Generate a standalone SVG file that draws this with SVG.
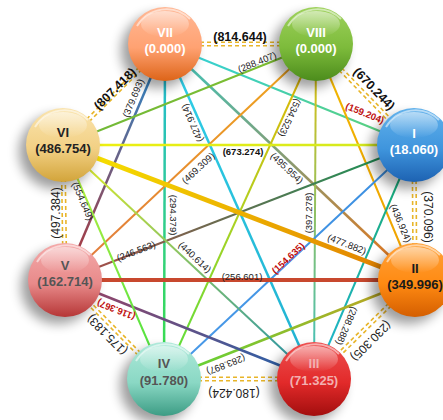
<svg xmlns="http://www.w3.org/2000/svg" width="443" height="420" viewBox="0 0 443 420">
<style>
.lbl{font-family:"Liberation Sans",Arial,sans-serif;font-size:9.5px;fill:#222;text-anchor:middle;dominant-baseline:central}
.ob{font-size:12.5px;font-weight:bold;fill:#111}
.or{font-size:12px}
.cb{font-weight:bold;fill:#111}
.red{fill:#C01010;font-weight:bold}
.nt{font-family:"Liberation Sans",Arial,sans-serif;font-size:13px;font-weight:bold;text-anchor:middle}
.dash line{stroke:#E8B52A;stroke-width:1.6;stroke-dasharray:4 3}
.edge line{fill:none;stroke-linecap:butt}
.shadow{fill:#000;opacity:0.38}
.rim{fill:none;stroke:#fff;stroke-width:2;opacity:0.55}
</style>
<defs>
<filter id="blur" x="-50%" y="-50%" width="200%" height="200%"><feGaussianBlur stdDeviation="6"/></filter>
<linearGradient id="gloss" x1="0" y1="0" x2="0" y2="1"><stop offset="0" stop-color="#fff" stop-opacity="0.55"/><stop offset="1" stop-color="#fff" stop-opacity="0"/></linearGradient>
<linearGradient id="n7" x1="0" y1="0" x2="0" y2="1"><stop offset="0" stop-color="#FFB896"/><stop offset="0.55" stop-color="#FFA272"/><stop offset="1" stop-color="#DD6418"/></linearGradient>
<linearGradient id="n8" x1="0" y1="0" x2="0" y2="1"><stop offset="0" stop-color="#9ED25C"/><stop offset="0.55" stop-color="#7DBB3B"/><stop offset="1" stop-color="#4C8C1C"/></linearGradient>
<linearGradient id="n1" x1="0" y1="0" x2="0" y2="1"><stop offset="0" stop-color="#62B2EC"/><stop offset="0.55" stop-color="#3F95DD"/><stop offset="1" stop-color="#1D62B2"/></linearGradient>
<linearGradient id="n2" x1="0" y1="0" x2="0" y2="1"><stop offset="0" stop-color="#FFA23A"/><stop offset="0.55" stop-color="#FF8A12"/><stop offset="1" stop-color="#D45E00"/></linearGradient>
<linearGradient id="n3" x1="0" y1="0" x2="0" y2="1"><stop offset="0" stop-color="#EE5050"/><stop offset="0.55" stop-color="#E22A2A"/><stop offset="1" stop-color="#A20E0E"/></linearGradient>
<linearGradient id="n4" x1="0" y1="0" x2="0" y2="1"><stop offset="0" stop-color="#AEE9DA"/><stop offset="0.55" stop-color="#8AD8C4"/><stop offset="1" stop-color="#3C9C84"/></linearGradient>
<linearGradient id="n5" x1="0" y1="0" x2="0" y2="1"><stop offset="0" stop-color="#F4AAAA"/><stop offset="0.55" stop-color="#E88A8A"/><stop offset="1" stop-color="#B63636"/></linearGradient>
<linearGradient id="n6" x1="0" y1="0" x2="0" y2="1"><stop offset="0" stop-color="#FAE4AE"/><stop offset="0.55" stop-color="#F2D084"/><stop offset="1" stop-color="#D2A43A"/></linearGradient>
<linearGradient id="g1" gradientUnits="userSpaceOnUse" x1="165" y1="44" x2="65" y2="280"><stop offset="0" stop-color="#1E90D8"/><stop offset="1" stop-color="#B83030"/></linearGradient>
<linearGradient id="g2" gradientUnits="userSpaceOnUse" x1="165" y1="44" x2="164" y2="379"><stop offset="0" stop-color="#22B8E0"/><stop offset="1" stop-color="#3CE040"/></linearGradient>
<linearGradient id="g3" gradientUnits="userSpaceOnUse" x1="165" y1="44" x2="314" y2="379"><stop offset="0" stop-color="#30D0E8"/><stop offset="1" stop-color="#20B0D0"/></linearGradient>
<linearGradient id="g4" gradientUnits="userSpaceOnUse" x1="165" y1="44" x2="415" y2="280"><stop offset="0" stop-color="#38C8C0"/><stop offset="0.5" stop-color="#8A9A70"/><stop offset="1" stop-color="#F07010"/></linearGradient>
<linearGradient id="g5" gradientUnits="userSpaceOnUse" x1="165" y1="44" x2="414" y2="145"><stop offset="0" stop-color="#30D0E0"/><stop offset="1" stop-color="#60D070"/></linearGradient>
<linearGradient id="g6" gradientUnits="userSpaceOnUse" x1="316" y1="44" x2="63" y2="145"><stop offset="0" stop-color="#80C030"/><stop offset="1" stop-color="#70B838"/></linearGradient>
<linearGradient id="g7" gradientUnits="userSpaceOnUse" x1="316" y1="44" x2="65" y2="280"><stop offset="0" stop-color="#F0A818"/><stop offset="1" stop-color="#E07840"/></linearGradient>
<linearGradient id="g8" gradientUnits="userSpaceOnUse" x1="316" y1="44" x2="164" y2="379"><stop offset="0" stop-color="#E8B000"/><stop offset="0.5" stop-color="#B0D020"/><stop offset="1" stop-color="#50E040"/></linearGradient>
<linearGradient id="g9" gradientUnits="userSpaceOnUse" x1="316" y1="44" x2="314" y2="379"><stop offset="0" stop-color="#E8C000"/><stop offset="1" stop-color="#38C0C8"/></linearGradient>
<linearGradient id="g10" gradientUnits="userSpaceOnUse" x1="316" y1="44" x2="415" y2="280"><stop offset="0" stop-color="#F0B800"/><stop offset="1" stop-color="#F0A000"/></linearGradient>
<linearGradient id="g11" gradientUnits="userSpaceOnUse" x1="414" y1="145" x2="63" y2="145"><stop offset="0" stop-color="#D0E820"/><stop offset="1" stop-color="#F0F010"/></linearGradient>
<linearGradient id="g12" gradientUnits="userSpaceOnUse" x1="414" y1="145" x2="65" y2="280"><stop offset="0" stop-color="#109858"/><stop offset="1" stop-color="#B04848"/></linearGradient>
<linearGradient id="g13" gradientUnits="userSpaceOnUse" x1="414" y1="145" x2="164" y2="379"><stop offset="0" stop-color="#3A8EE0"/><stop offset="1" stop-color="#4A9AE8"/></linearGradient>
<linearGradient id="g14" gradientUnits="userSpaceOnUse" x1="414" y1="145" x2="314" y2="379"><stop offset="0" stop-color="#18A868"/><stop offset="1" stop-color="#20B8D8"/></linearGradient>
<linearGradient id="g15" gradientUnits="userSpaceOnUse" x1="63" y1="145" x2="415" y2="280"><stop offset="0" stop-color="#F8E800"/><stop offset="1" stop-color="#E07800"/></linearGradient>
<linearGradient id="g17" gradientUnits="userSpaceOnUse" x1="415" y1="280" x2="164" y2="379"><stop offset="0" stop-color="#C8A020"/><stop offset="1" stop-color="#58D838"/></linearGradient>
<linearGradient id="g18" gradientUnits="userSpaceOnUse" x1="63" y1="145" x2="314" y2="379"><stop offset="0" stop-color="#E8F020"/><stop offset="1" stop-color="#2090B0"/></linearGradient>
<linearGradient id="g19" gradientUnits="userSpaceOnUse" x1="65" y1="280" x2="314" y2="379"><stop offset="0" stop-color="#A04060"/><stop offset="1" stop-color="#1E64B0"/></linearGradient>
<linearGradient id="g20" gradientUnits="userSpaceOnUse" x1="63" y1="145" x2="164" y2="379"><stop offset="0" stop-color="#C8F040"/><stop offset="1" stop-color="#40E040"/></linearGradient>
</defs>
<rect width="443" height="420" fill="#fff"/>

<g id="connectors">
<g class="edge">
<line x1="165" y1="44" x2="65" y2="280" stroke="url(#g1)" stroke-width="2.5"/>
<line x1="165" y1="44" x2="164" y2="379" stroke="url(#g2)" stroke-width="2.5"/>
<line x1="165" y1="44" x2="314" y2="379" stroke="url(#g3)" stroke-width="2.5"/>
<line x1="165" y1="44" x2="415" y2="280" stroke="url(#g4)" stroke-width="2.5"/>
<line x1="165" y1="44" x2="414" y2="145" stroke="url(#g5)" stroke-width="2"/>
<line x1="316" y1="44" x2="63" y2="145" stroke="url(#g6)" stroke-width="2"/>
<line x1="316" y1="44" x2="65" y2="280" stroke="url(#g7)" stroke-width="2"/>
<line x1="316" y1="44" x2="164" y2="379" stroke="url(#g8)" stroke-width="2"/>
<line x1="316" y1="44" x2="314" y2="379" stroke="url(#g9)" stroke-width="2"/>
<line x1="316" y1="44" x2="415" y2="280" stroke="url(#g10)" stroke-width="2"/>
<line x1="414" y1="145" x2="63" y2="145" stroke="url(#g11)" stroke-width="2.5"/>
<line x1="414" y1="145" x2="65" y2="280" stroke="url(#g12)" stroke-width="2"/>
<line x1="414" y1="145" x2="164" y2="379" stroke="url(#g13)" stroke-width="2"/>
<line x1="414" y1="145" x2="314" y2="379" stroke="url(#g14)" stroke-width="2"/>
<line x1="415" y1="280" x2="164" y2="379" stroke="url(#g17)" stroke-width="2.5"/>
<line x1="63" y1="145" x2="314" y2="379" stroke="url(#g18)" stroke-width="2"/>
<line x1="65" y1="280" x2="314" y2="379" stroke="url(#g19)" stroke-width="2.5"/>
<line x1="63" y1="145" x2="164" y2="379" stroke="url(#g20)" stroke-width="2"/>
<line x1="65" y1="280" x2="415" y2="280" stroke="#C8482E" stroke-width="4"/>
<line x1="63" y1="145" x2="415" y2="280" stroke="url(#g15)" stroke-width="5"/>
</g>
<g class="dash">
<g transform="translate(165,44)"><line x1="0" y1="-1.8" x2="151" y2="-1.8"/><line x1="0" y1="1.8" x2="151" y2="1.8"/></g>
<g transform="translate(316,44) rotate(45.86)"><line x1="0" y1="-1.8" x2="141" y2="-1.8"/><line x1="0" y1="1.8" x2="141" y2="1.8"/></g>
<g transform="translate(414,145) rotate(89.58)"><line x1="0" y1="-1.8" x2="135" y2="-1.8"/><line x1="0" y1="1.8" x2="135" y2="1.8"/></g>
<g transform="translate(415,280) rotate(135.58)"><line x1="0" y1="-1.8" x2="141" y2="-1.8"/><line x1="0" y1="1.8" x2="141" y2="1.8"/></g>
<g transform="translate(314,379) rotate(180)"><line x1="0" y1="-1.8" x2="150" y2="-1.8"/><line x1="0" y1="1.8" x2="150" y2="1.8"/></g>
<g transform="translate(164,379) rotate(225.3)"><line x1="0" y1="-1.8" x2="140" y2="-1.8"/><line x1="0" y1="1.8" x2="140" y2="1.8"/></g>
<g transform="translate(65,280) rotate(-90.85)"><line x1="0" y1="-1.8" x2="135" y2="-1.8"/><line x1="0" y1="1.8" x2="135" y2="1.8"/></g>
<g transform="translate(63,145) rotate(-44.7)"><line x1="0" y1="-1.8" x2="144" y2="-1.8"/><line x1="0" y1="1.8" x2="144" y2="1.8"/></g>
</g>
<g id="edge-labels">
<text class="lbl ob" transform="translate(240,37)">(814.644)</text>
<text class="lbl ob" transform="translate(374,89) rotate(46)">(670.244)</text>
<text class="lbl red" transform="translate(365,113) rotate(22)">(159.204)</text>
<text class="lbl or" transform="translate(428,217) rotate(90)">(370.096)</text>
<text class="lbl or" transform="translate(371,341) rotate(135)">(230.305)</text>
<text class="lbl or" transform="translate(234,393) rotate(180)">(180.424)</text>
<text class="lbl or" transform="translate(107,335) rotate(-135)">(175.183)</text>
<text class="lbl or" transform="translate(56,213) rotate(-90)">(497.384)</text>
<text class="lbl ob" transform="translate(115,89) rotate(-45)">(807.418)</text>
<text class="lbl" transform="translate(257,62) rotate(-22)">(288.407)</text>
<text class="lbl" transform="translate(133,98) rotate(-67)">(379.693)</text>
<text class="lbl" transform="translate(192,123) rotate(-114)">(427.914)</text>
<text class="lbl" transform="translate(173,215) rotate(90)">(294.379)</text>
<text class="lbl" transform="translate(198,168) rotate(-43)">(469.309)</text>
<text class="lbl cb" transform="translate(243,151)">(673.274)</text>
<text class="lbl" transform="translate(290,118) rotate(115)">(534.523)</text>
<text class="lbl" transform="translate(287,168) rotate(43)">(495.954)</text>
<text class="lbl" transform="translate(308,213) rotate(-90)">(397.278)</text>
<text class="lbl" transform="translate(401,223) rotate(67)">(436.924)</text>
<text class="lbl" transform="translate(347,244) rotate(21)">(477.882)</text>
<text class="lbl red" transform="translate(288,258) rotate(-43)">(154.635)</text>
<text class="lbl" transform="translate(136,251) rotate(-21)">(246.563)</text>
<text class="lbl" transform="translate(195,257) rotate(43)">(440.614)</text>
<text class="lbl" transform="translate(242,276)">(256.601)</text>
<text class="lbl" transform="translate(347,326) rotate(113)">(288.288)</text>
<text class="lbl" transform="translate(226,365) rotate(158.5)">(283.897)</text>
<text class="lbl red" transform="translate(116,310) rotate(201.7)">(116.367)</text>
<text class="lbl" transform="translate(83,201) rotate(67)">(554.649)</text>
</g>
</g>

<g id="node-VII">
<circle class="shadow" cx="158" cy="51" r="37" filter="url(#blur)"/>
<circle cx="165" cy="44" r="37" fill="url(#n7)"/>
<path class="rim" d="M137,26 A34,34 0 0 1 190,19"/>
<ellipse cx="165" cy="24" rx="24" ry="13" fill="url(#gloss)"/>
<text class="nt" x="165" y="37" fill="#fff">VII</text>
<text class="nt" x="165" y="53" fill="#fff">(0.000)</text>
</g>
<g id="node-VIII">
<circle class="shadow" cx="309" cy="51" r="37" filter="url(#blur)"/>
<circle cx="316" cy="44" r="37" fill="url(#n8)"/>
<path class="rim" d="M288,26 A34,34 0 0 1 341,19"/>
<ellipse cx="316" cy="24" rx="24" ry="13" fill="url(#gloss)"/>
<text class="nt" x="316" y="37" fill="#fff">VIII</text>
<text class="nt" x="316" y="53" fill="#fff">(0.000)</text>
</g>
<g id="node-I">
<circle class="shadow" cx="407" cy="152" r="37" filter="url(#blur)"/>
<circle cx="414" cy="145" r="37" fill="url(#n1)"/>
<path class="rim" d="M386,127 A34,34 0 0 1 439,120"/>
<ellipse cx="414" cy="125" rx="24" ry="13" fill="url(#gloss)"/>
<text class="nt" x="414" y="138" fill="#fff">I</text>
<text class="nt" x="414" y="154" fill="#fff">(18.060)</text>
</g>
<g id="node-II">
<circle class="shadow" cx="408" cy="287" r="37" filter="url(#blur)"/>
<circle cx="415" cy="280" r="37" fill="url(#n2)"/>
<path class="rim" d="M387,262 A34,34 0 0 1 440,255"/>
<ellipse cx="415" cy="260" rx="24" ry="13" fill="url(#gloss)"/>
<text class="nt" x="415" y="273" fill="#1a1a1a">II</text>
<text class="nt" x="415" y="289" fill="#1a1a1a">(349.996)</text>
</g>
<g id="node-III">
<circle class="shadow" cx="307" cy="386" r="37" filter="url(#blur)"/>
<circle cx="314" cy="379" r="37" fill="url(#n3)"/>
<path class="rim" d="M286,361 A34,34 0 0 1 339,354"/>
<ellipse cx="314" cy="359" rx="24" ry="13" fill="url(#gloss)"/>
<text class="nt" x="314" y="368" fill="#F2B0B0">III</text>
<text class="nt" x="314" y="385" fill="#F2B0B0">(71.325)</text>
</g>
<g id="node-IV">
<circle class="shadow" cx="157" cy="386" r="37" filter="url(#blur)"/>
<circle cx="164" cy="379" r="37" fill="url(#n4)"/>
<path class="rim" d="M136,361 A34,34 0 0 1 189,354"/>
<ellipse cx="164" cy="359" rx="24" ry="13" fill="url(#gloss)"/>
<text class="nt" x="164" y="368" fill="#555">IV</text>
<text class="nt" x="164" y="385" fill="#555">(91.780)</text>
</g>
<g id="node-V">
<circle class="shadow" cx="58" cy="287" r="37" filter="url(#blur)"/>
<circle cx="65" cy="280" r="37" fill="url(#n5)"/>
<path class="rim" d="M37,262 A34,34 0 0 1 90,255"/>
<ellipse cx="65" cy="260" rx="24" ry="13" fill="url(#gloss)"/>
<text class="nt" x="65" y="270" fill="#555">V</text>
<text class="nt" x="65" y="286" fill="#555">(162.714)</text>
</g>
<g id="node-VI">
<circle class="shadow" cx="56" cy="152" r="37" filter="url(#blur)"/>
<circle cx="63" cy="145" r="37" fill="url(#n6)"/>
<path class="rim" d="M35,127 A34,34 0 0 1 88,120"/>
<ellipse cx="63" cy="125" rx="24" ry="13" fill="url(#gloss)"/>
<text class="nt" x="63" y="137" fill="#222">VI</text>
<text class="nt" x="63" y="153" fill="#222">(486.754)</text>
</g>
</svg>
